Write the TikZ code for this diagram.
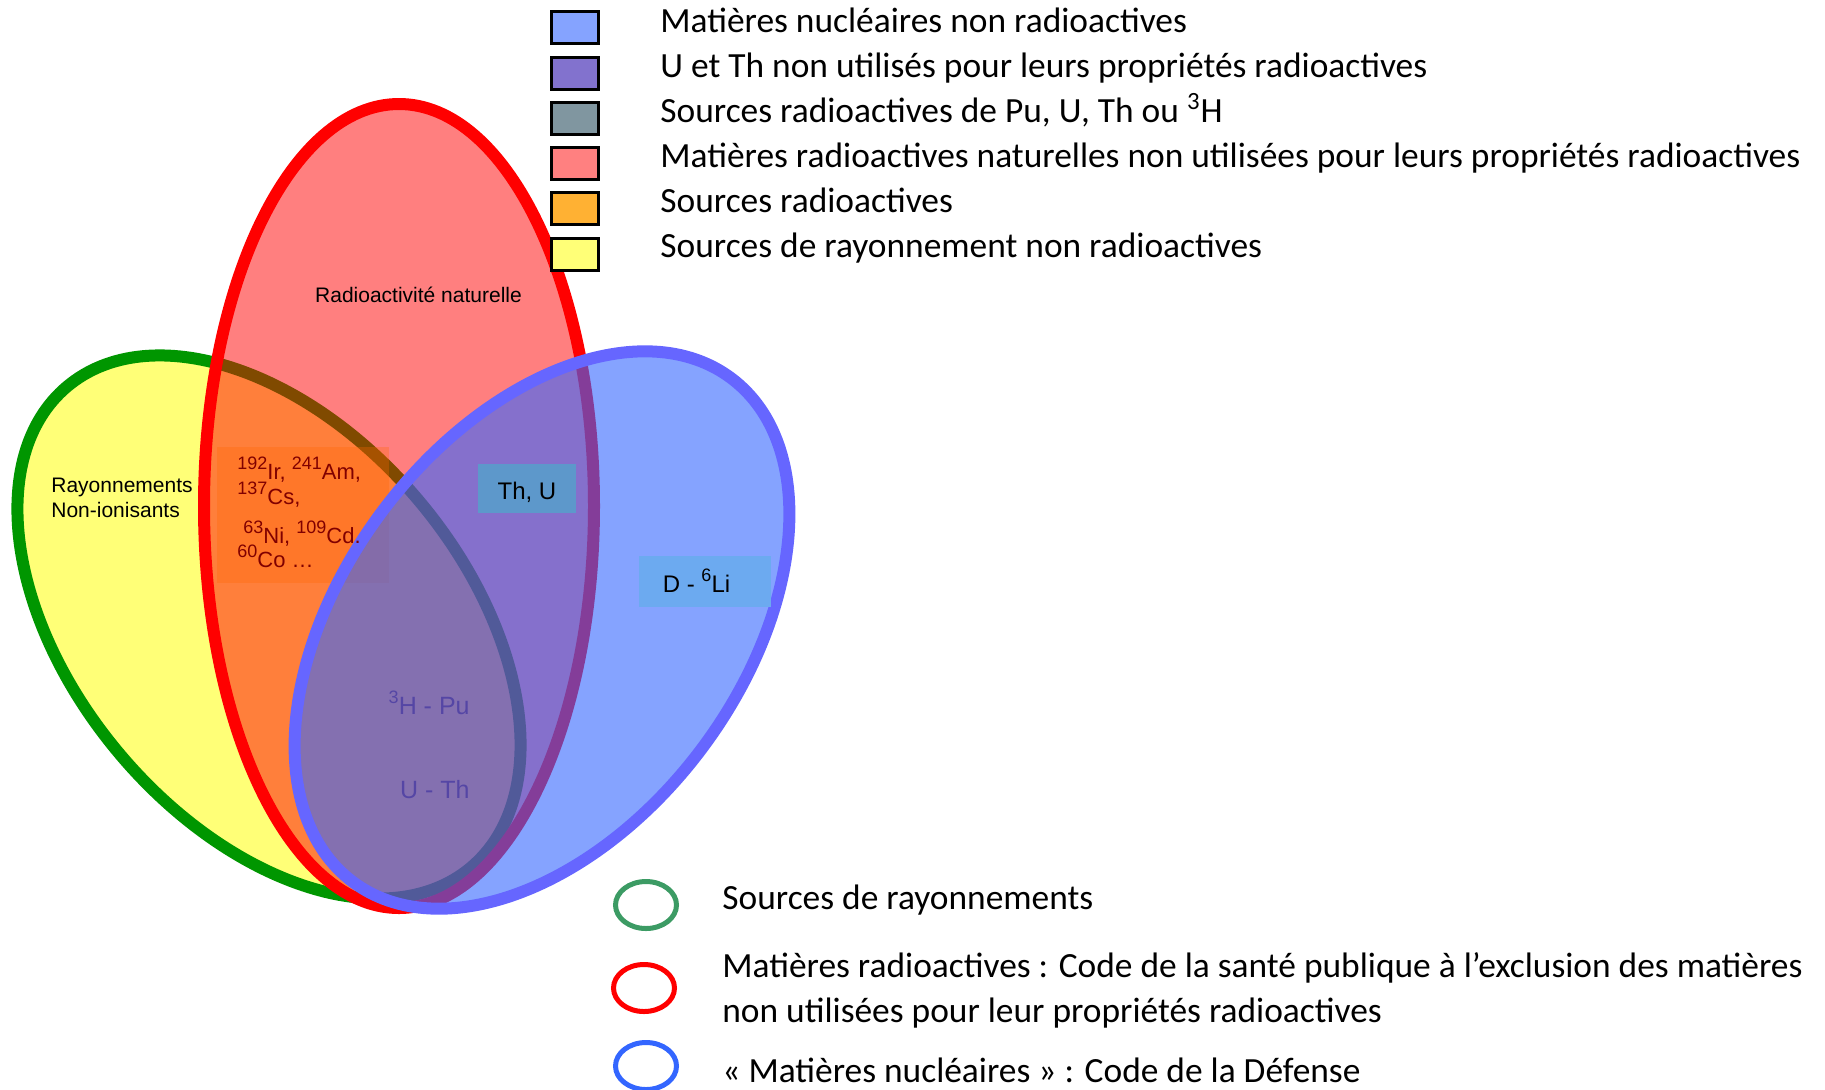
\documentclass[tikz,border=0pt]{standalone}
\usepackage{fontspec}
\usepackage{xcolor}
\usepackage{tikz}
\setmainfont{Liberation Sans}
\newfontfamily\legfamily{Carlito}
\newcommand{\legfont}{\legfamily\fontsize{17.7}{20}\selectfont}
\newcommand{\diafont}{\fontsize{10.5}{12.5}\selectfont}
\newcommand{\isofont}{\fontsize{11}{13}\selectfont}
\newcommand{\tagfont}{\fontsize{12}{14}\selectfont}
\newcommand{\isotop}[2][8]{\raisebox{0.42em}{\fontsize{#1}{#1}\selectfont #2}}

\definecolor{ringgreen}{RGB}{0,150,0}
\definecolor{fillyellow}{RGB}{255,255,119}
\definecolor{ringblue}{RGB}{102,102,255}
\definecolor{fillblue}{RGB}{51,102,255}
\definecolor{isobox}{RGB}{255,102,0}
\definecolor{isotext}{RGB}{128,0,0}
\definecolor{thubox}{RGB}{93,152,203}
\definecolor{libox}{RGB}{108,170,240}
\definecolor{deeplabel}{RGB}{85,70,165}
\definecolor{sqblue}{RGB}{133,163,255}
\definecolor{sqpurple}{RGB}{130,114,206}
\definecolor{sqgrey}{RGB}{128,150,160}
\definecolor{sqpink}{RGB}{255,128,128}
\definecolor{sqorange}{RGB}{255,177,51}
\definecolor{keygreen}{RGB}{60,155,100}
\definecolor{keyblue}{RGB}{51,102,255}

\begin{document}
\begin{tikzpicture}[x=0.5pt,y=0.5pt,
  legtext/.style={anchor=base west, inner sep=0pt, font=\legfont},
  diatext/.style={anchor=base west, inner sep=0pt, font=\diafont},
  isotext/.style={anchor=base west, inner sep=0pt, font=\isofont, text=isotext},
  legsquare/.style={draw=black, line width=1.5pt},
  keyring/.style={line width=2.5pt}]
\def\lw{6pt};
\useasboundingbox (0,0) rectangle (1825,-1089);
\coordinate (G) at (269,-627);
\coordinate (R) at (399,-506);
\coordinate (B) at (542,-630);

\draw[fill=fillyellow, draw=ringgreen, line width=\lw] (G) ellipse [x radius=314, y radius=196, rotate=-50]; %sources de rayonnements%
\draw[fill=red, fill opacity=0.5, draw=red, line width=\lw] (R) ellipse [x radius=195, y radius=402]; %matieres radioactives%
\fill[isobox, fill opacity=0.3] (217,-447) rectangle (389,-583); %isotopes%
\draw[fill=fillblue, fill opacity=0.6, draw=ringblue, line width=\lw] (B) ellipse [x radius=315, y radius=199, rotate=53]; %matieres nucleaires%

\fill[thubox] (478,-464) rectangle (576,-513);
\fill[libox] (639,-556) rectangle (771,-607);

\node[isotext] (iso1) at (237,-479) {\isotop[9]{192}Ir, \isotop[9]{241}Am,};
\node[isotext] (iso2) at (237,-504) {\isotop[9]{137}Cs,};
\node[isotext] (iso3) at (243,-543) {\isotop[9]{63}Ni, \isotop[9]{109}Cd.};
\node[isotext] (iso4) at (237,-567) {\isotop[9]{60}Co …};

\node[anchor=base, inner sep=0pt, font=\diafont] (natlabel) at (418.5,-302) {Radioactivité naturelle};
\node[diatext] (rayo1) at (51,-492) {Rayonnements};
\node[diatext] (rayo2) at (51,-517) {Non-ionisants};
\node[anchor=base, inner sep=0pt, font=\tagfont] (thu) at (527,-499) {Th, U};
\node[anchor=base, inner sep=0pt, font=\tagfont] (dli) at (696.5,-592) {D - \isotop[9]{6}Li};
\node[anchor=base east, inner sep=0pt, font=\fontsize{12.5}{14}\selectfont, text=deeplabel] (hpu) at (470,-714) {\isotop[9]{3}H - Pu};
\node[anchor=base east, inner sep=0pt, font=\fontsize{12.5}{14}\selectfont, text=deeplabel] (uth) at (470,-798) {U - Th};

% legende des couleurs
\draw[legsquare, fill=sqblue] (551,-11) rectangle (598,-43);
\draw[legsquare, fill=sqpurple] (551,-57) rectangle (598,-89);
\draw[legsquare, fill=sqgrey] (551,-102) rectangle (598,-134);
\draw[legsquare, fill=sqpink] (551,-147) rectangle (598,-179);
\draw[legsquare, fill=sqorange] (551,-192) rectangle (598,-224);
\draw[legsquare, fill=fillyellow] (551,-238) rectangle (598,-270);
\node[legtext] (leg1) at (660,-32) {Matières nucléaires non radioactives};
\node[legtext] (leg2) at (660,-77) {U et Th non utilisés pour leurs propriétés radioactives};
\node[legtext] (leg3) at (660,-122) {Sources radioactives de Pu, U, Th ou \textsuperscript{3}H};
\node[legtext] (leg4) at (660,-167) {Matières radioactives naturelles non utilisées pour leurs propriétés radioactives};
\node[legtext] (leg5) at (660,-212) {Sources radioactives};
\node[legtext] (leg6) at (660,-257) {Sources de rayonnement non radioactives};

% legende des ensembles
\draw[keyring, keygreen] (646,-905) ellipse [x radius=30.5, y radius=23.5];
\draw[keyring, red] (644,-988) ellipse [x radius=30.5, y radius=23.5];
\draw[keyring, keyblue] (646,-1066) ellipse [x radius=30.5, y radius=23.5];
\node[legtext] (key1) at (722,-909) {Sources de rayonnements};
\node[legtext] (key2) at (722,-977) {Matières radioactives : Code de la santé publique à l’exclusion des matières};
\node[legtext] (key3) at (722,-1022) {non utilisées pour leur propriétés radioactives};
\node[legtext] (key4) at (722,-1082) {« Matières nucléaires » : Code de la Défense};
\end{tikzpicture}
\end{document}
